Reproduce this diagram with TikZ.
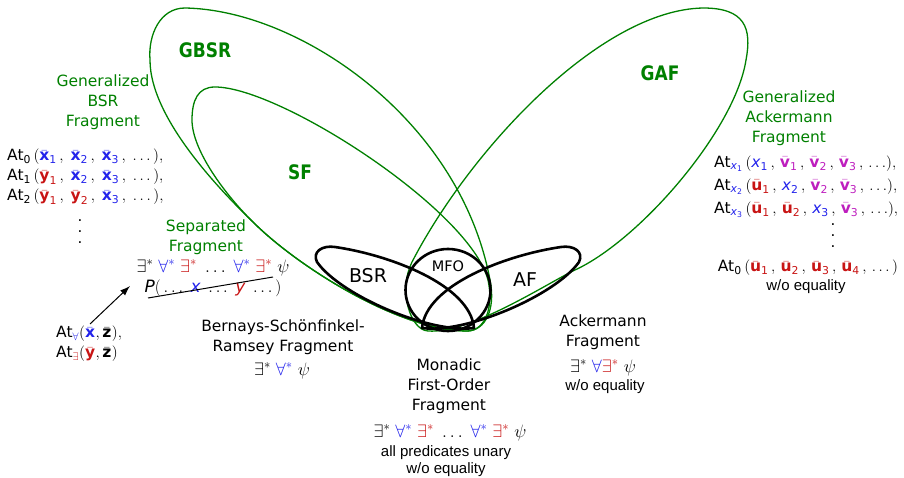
\RequirePackage{fix-cm}
\documentclass[tikz,border=0pt]{standalone}
\usepackage{amsmath}
\usepackage{graphicx}
\usepackage{fontspec}
\setmainfont{DejaVu Sans}
\newfontfamily\libsans{Liberation Sans}
\usetikzlibrary{arrows.meta}
\definecolor{cgreen}{RGB}{0,128,0}
\definecolor{cblue}{RGB}{35,35,235}
\definecolor{cred}{RGB}{200,20,20}
\definecolor{cmag}{RGB}{190,30,190}
\newcommand{\bvar}[3]{\textcolor{#1}{\bar{\text{\bfseries #2}}_{\text{#3}}}}
\newcommand{\ivar}[3]{\textcolor{#1}{\text{\itshape #2}_{\text{#3}}}}
\newcommand{\At}{\text{At}}
\newcommand{\qE}{\exists^{*}}
\newcommand{\qA}{\textcolor{cblue}{\forall^{*}}}
\newcommand{\qR}{\textcolor{cred}{\exists^{*}}}
\newcommand{\cm}{\,,\;}
\newcommand{\cmr}{\,,\,}
\begin{document}
\begin{tikzpicture}[x=1pt,y=-1pt,
  gline/.style={draw=cgreen, line width=1.3pt, line join=round},
  bline/.style={draw=black, line width=2.6pt, line join=round},
  txt/.style={font=\fontsize{15.5}{20}\selectfont, align=center, inner sep=0pt},
  gtxt/.style={txt, text=cgreen},
  fml/.style={font=\fontsize{18}{20}\selectfont, inner sep=0pt},
  gbig/.style={font=\bfseries\fontsize{20}{22}\selectfont, text=cgreen, inner sep=0pt},
  lbl/.style={font=\fontsize{19}{22}\selectfont, inner sep=0pt},
  eqt/.style={font=\libsans\fontsize{15}{17}\selectfont, inner sep=0pt, align=center},
  dots/.style={font=\fontsize{15}{11}\selectfont, align=center, inner sep=0pt},
]
\useasboundingbox (0,0) rectangle (904,478);

% green loops
\draw[gline] (468,331) .. controls (400,331) and (300,268) .. (255,224)
   .. controls (225,195) and (150,120) .. (150,60)
   .. controls (148,35) and (160,8) .. (185,8)
   .. controls (300,10) and (460,120) .. (490,280)
   .. controls (496,310) and (485,330) .. (468,331) -- cycle;
\draw[gline] (468,331) .. controls (400,331) and (300,268) .. (255,224)
   .. controls (225,195) and (192,150) .. (192,120)
   .. controls (192,100) and (198,87) .. (215,87)
   .. controls (280,87) and (470,210) .. (488,280)
   .. controls (494,308) and (485,330) .. (468,331) -- cycle;
\draw[gline] (428,331) .. controls (410,330) and (398,290) .. (412,262)
   .. controls (470,150) and (600,10) .. (703,8)
   .. controls (745,8) and (752,28) .. (746,60)
   .. controls (735,130) and (640,240) .. (575,270)
   .. controls (546,284) and (470,334) .. (428,331) -- cycle;

% black loops
\draw[bline] (474,328) .. controls (430,334) and (340,295) .. (317,262)
   .. controls (312,252) and (322,245) .. (335,247)
   .. controls (390,255) and (470,285) .. (474,328) -- cycle;
\draw[bline] (422,328) .. controls (466,334) and (556,295) .. (579,262)
   .. controls (584,252) and (574,245) .. (561,247)
   .. controls (506,255) and (426,285) .. (422,328) -- cycle;
\draw[bline] (448,290) ellipse [x radius=42.5pt, y radius=41pt];

% region labels
\node[gbig] (gbsr) at (205,50) {\scalebox{0.85}[1]{GBSR}};
\node[gbig] (sf) at (300,172) {\scalebox{0.85}[1]{SF}};
\node[gbig] (gaf) at (660,73) {\scalebox{0.85}[1]{GAF}};
\node[lbl] (bsr) at (368,276) {BSR};
\node[lbl] (af) at (525,280) {AF};
\node[txt, font=\fontsize{14.5}{17}\selectfont] (mfo) at (448,266) {MFO};

% left side
\node[gtxt] (genbsr) at (103,102) {Generalized\\BSR\\Fragment};
\node[txt, anchor=west, align=left] (atleft) at (7,177)
  {$\At_{\text{0}}\,(\bvar{cblue}{x}{1}\cm \bvar{cblue}{x}{2}\cm \bvar{cblue}{x}{3}\cm \ldots\,),$\\
   $\At_{\text{1}}\,(\bvar{cred}{y}{1}\cm \bvar{cblue}{x}{2}\cm \bvar{cblue}{x}{3}\cm \ldots\,),$\\
   $\At_{\text{2}}\,(\bvar{cred}{y}{1}\cm \bvar{cred}{y}{2}\cm \bvar{cblue}{x}{3}\cm \ldots\,),$};
\node[dots] (vdl) at (80,232) {.\\.\\.};

\node[gtxt] (sep) at (206,237) {Separated\\Fragment};
\node[fml] (sepf) at (213,268) {$\qE\;\qA\;\qR\;\ldots\;\qA\;\qR\;\psi$};
\node[txt, font=\fontsize{17}{20}\selectfont] (sepp) at (213,288) {\textit{P}$(\,\ldots\;\textcolor{cblue}{\text{\itshape x}}\;\ldots\;\textcolor{cred}{\text{\itshape y}}\;\ldots\,)$};
\coordinate (stA) at (148,298);
\coordinate (stB) at (273,277);
\draw[line width=1pt] (stA) -- (stB);

\node[txt, anchor=west, align=left] (atall) at (56,344)
  {$\At_{\textcolor{cblue}{\forall}}(\bvar{cblue}{x}{}, \bvar{black}{z}{}),$\\
   $\At_{\textcolor{cred}{\exists}}(\bvar{cred}{y}{}, \bvar{black}{z}{})$};
\coordinate (arT) at (90,324);
\coordinate (arH) at (130,286);
\draw[line width=1pt, -{Latex[length=10pt,width=7pt]}] (arT) -- (arH);

% bottom texts
\node[txt] (bsrt) at (283,337) {Bernays-Schönfinkel-\\Ramsey Fragment};
\node[fml] (bsrf) at (282,371) {$\qE\;\qA\;\psi$};
\node[txt] (mfot) at (449,386) {Monadic\\First-Order\\Fragment};
\node[fml] (mfof) at (450,433) {$\qE\;\qA\;\qR\;\ldots\;\qA\;\qR\;\psi$};
\node[eqt] (mfoe) at (446,461.5) {all predicates unary\\w/o equality};
\node[txt] (akt) at (603,332.5) {Ackermann\\Fragment};
\node[fml] (akf) at (603,368) {$\qE\;\textcolor{cblue}{\forall}\textcolor{cred}{\exists^{*}}\;\psi$};
\node[eqt] (ake) at (605,387) {w/o equality};

% right side
\node[gtxt] (genaf) at (789,118) {Generalized\\Ackermann\\Fragment};
\node[txt, anchor=west, align=left, font=\fontsize{15.5}{23}\selectfont] (atright) at (714,187)
  {$\At_{\ivar{cblue}{x}{1}}\,(\ivar{cblue}{x}{1}\cmr \bvar{cmag}{v}{1}\cmr \bvar{cmag}{v}{2}\cmr \bvar{cmag}{v}{3}\cmr \ldots),$\\
   $\At_{\ivar{cblue}{x}{2}}\,(\bvar{cred}{u}{1}\cmr \ivar{cblue}{x}{2}\cmr \bvar{cmag}{v}{2}\cmr \bvar{cmag}{v}{3}\cmr \ldots),$\\
   $\At_{\ivar{cblue}{x}{3}}\,(\bvar{cred}{u}{1}\cmr \bvar{cred}{u}{2}\cmr \ivar{cblue}{x}{3}\cmr \bvar{cmag}{v}{3}\cmr \ldots),$};
\node[dots] (vdr) at (833,236) {.\\.\\.};
\node[txt] (at0r) at (808,268) {$\At_{\text{0}}\,(\bvar{cred}{u}{1}\cmr \bvar{cred}{u}{2}\cmr \bvar{cred}{u}{3}\cmr \bvar{cred}{u}{4}\cmr \ldots\,)$};
\node[eqt] (atre) at (806,287) {w/o equality};
\end{tikzpicture}
\end{document}
